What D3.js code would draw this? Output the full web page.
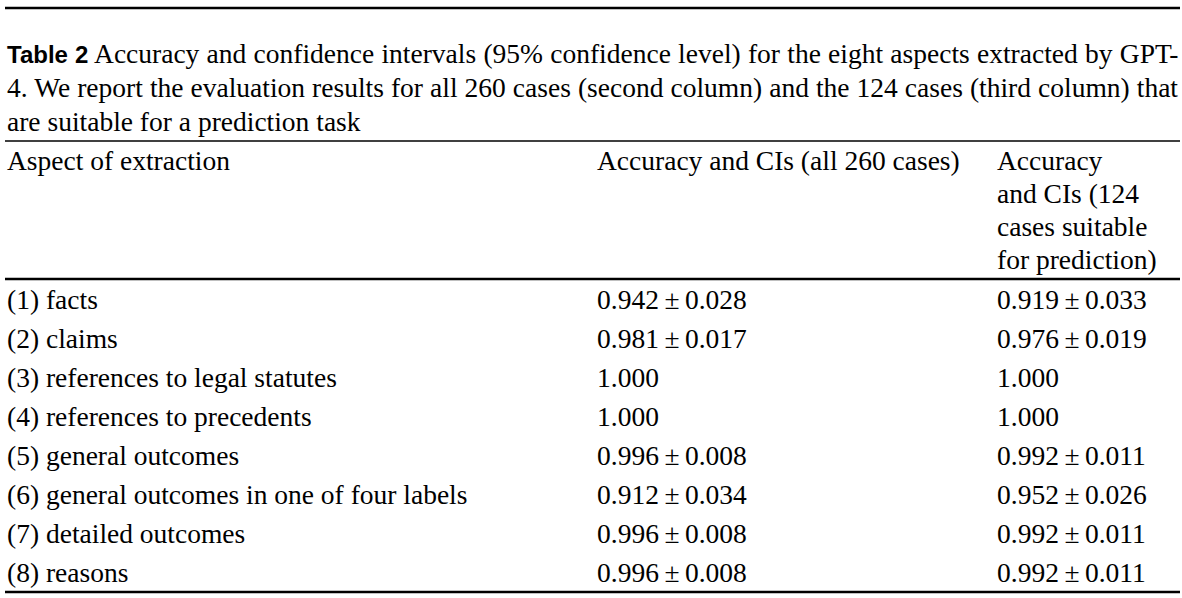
<!DOCTYPE html>
<html><head><meta charset="utf-8">
<script src="https://cdn.jsdelivr.net/npm/d3@7"></script>
<style>body{margin:0;background:#fff}svg{display:block}</style>
</head><body>
<svg id="c" width="1182" height="598"></svg>
<script>
const aspects = ["(1) facts","(2) claims","(3) references to legal statutes","(4) references to precedents","(5) general outcomes","(6) general outcomes in one of four labels","(7) detailed outcomes","(8) reasons"];
const all260 = ["0.942\u2009\u00b1\u20090.028","0.981\u2009\u00b1\u20090.017","1.000","1.000","0.996\u2009\u00b1\u20090.008","0.912\u2009\u00b1\u20090.034","0.996\u2009\u00b1\u20090.008","0.996\u2009\u00b1\u20090.008"];
const pred124 = ["0.919\u2009\u00b1\u20090.033","0.976\u2009\u00b1\u20090.019","1.000","1.000","0.992\u2009\u00b1\u20090.011","0.952\u2009\u00b1\u20090.026","0.992\u2009\u00b1\u20090.011","0.992\u2009\u00b1\u20090.011"];
const headers = [["Aspect of extraction"],["Accuracy and CIs (all 260 cases)"],["Accuracy","and CIs (124","cases suitable","for prediction)"]];
const captionLines = [" Accuracy and confidence intervals (95% confidence level) for the eight aspects extracted by GPT-","4. We report the evaluation results for all 260 cases (second column) and the 124 cases (third column) that","are suitable for a prediction task"];

const svg = d3.select("#c");
const L = 5, R = 1180, serif = "'Liberation Serif','DejaVu Serif',serif", fs = 27.5;
const colX = [7, 597, 997];
svg.append("line").attr("x1",L).attr("x2",R).attr("y1",8).attr("y2",8).attr("stroke","#000").attr("stroke-width",2.5);
svg.append("line").attr("x1",L).attr("x2",R).attr("y1",141).attr("y2",141).attr("stroke","#000").attr("stroke-width",1.3);
svg.append("line").attr("x1",L).attr("x2",R).attr("y1",279).attr("y2",279).attr("stroke","#000").attr("stroke-width",2.5);
svg.append("line").attr("x1",L).attr("x2",R).attr("y1",592).attr("y2",592).attr("stroke","#000").attr("stroke-width",2.5);

const capY = [63, 97, 131];
captionLines.forEach((t,i)=>{
  const tx = svg.append("text").attr("x",7).attr("y",capY[i]).attr("font-family",serif).attr("font-size",fs);
  if(i===0){ tx.append("tspan").attr("font-family","'Liberation Sans','Open Sans',sans-serif").attr("font-weight","bold").attr("font-size",24).text("Table 2"); }
  tx.append("tspan").text(t);
  if(i<2){
    const w = tx.node().getComputedTextLength();
    const spaces = (t.match(/ /g)||[]).length;
    const target = R - 2 - 7;
    if(spaces>0) tx.attr("word-spacing", (target - w)/spaces);
  }
});

headers.forEach((lines,c)=>{
  lines.forEach((t,j)=>svg.append("text").attr("x",colX[c]).attr("y",170+j*33).attr("font-family",serif).attr("font-size",fs).text(t));
});

const y = d3.scaleBand().domain(d3.range(aspects.length)).range([281,592]);
const rows = svg.selectAll("g.row").data(aspects).join("g").attr("transform",(d,i)=>`translate(0,${y(i)+y.bandwidth()/2+9})`);
rows.append("text").attr("x",colX[0]).text(d=>d);
rows.append("text").attr("x",colX[1]).text((d,i)=>all260[i]);
rows.append("text").attr("x",colX[2]).text((d,i)=>pred124[i]);
rows.selectAll("text").attr("font-family",serif).attr("font-size",fs);
</script></body></html>
